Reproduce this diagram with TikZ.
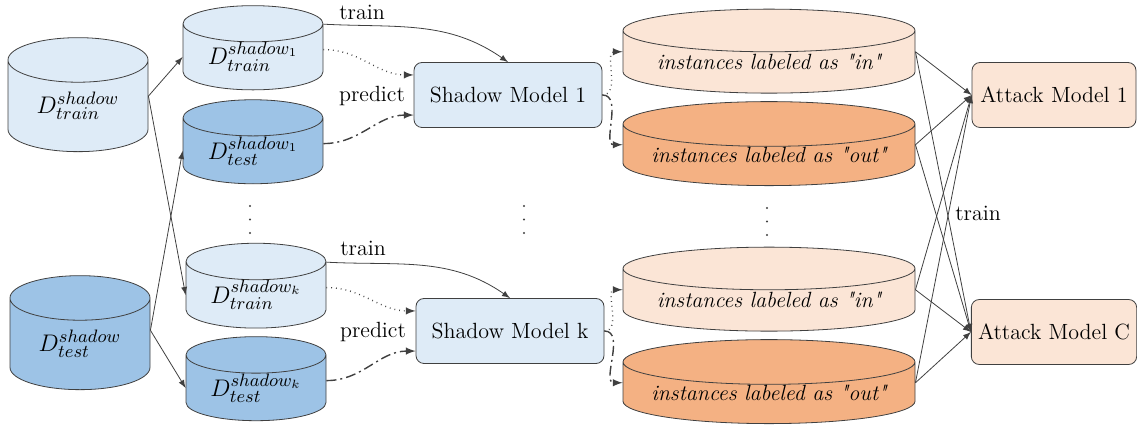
\documentclass[tikz,border=0pt]{standalone}
\usepackage{fontspec}
\usepackage{xcolor}
\usepackage{tikz}
\usetikzlibrary{
	shapes.geometric,   %圆柱形状
	arrows.meta,        %提供各种箭头
	positioning         %定位
}
\definecolor{paleblue}{HTML}{DEEBF7}
\definecolor{midblue}{HTML}{9DC3E6}
\definecolor{peach}{HTML}{FBE5D6}
\definecolor{orange}{HTML}{F4B183}
\definecolor{linegray}{HTML}{404040}
\tikzset{
	every picture/.style={
		>=latex,
		font=\fontsize{11}{13}\selectfont
}}
\tikzset{
	db/.style={cylinder,shape border rotate=90,draw=linegray,
		minimum width=70pt,minimum height=42pt,aspect=0.4,inner sep=0pt,
		font=\fontsize{13}{15}\selectfont},
	bigdb/.style={db,minimum height=57pt,aspect=0.54},
	labdb/.style={db,minimum width=146pt,aspect=0.19,font=\fontsize{11}{13}\selectfont\itshape},
	model/.style={rectangle,rounded corners=4pt,draw=linegray,
		minimum width=94pt,minimum height=32.5pt},
	conn/.style={->,draw=linegray,thin},
	dotconn/.style={conn,dotted,line width=0.7pt},
	dashdotconn/.style={conn,line width=0.7pt,dash pattern=on 5pt off 2pt on 1pt off 2pt}
}

\begin{document}
\begin{tikzpicture}[x=0.5pt,y=0.5pt]
\useasboundingbox (0,0) rectangle (1137,428);
%左边的两个大数据集
\node[bigdb,fill=paleblue] (bigtrain) at (78,322) {$D^{shadow}_{train}$};
\node[bigdb,fill=midblue] (bigtest) at (80,84) {$D^{shadow}_{test}$};
%每个影子模型的训练集和测试集
\node[db,fill=paleblue] (dtrain1) at (253,371) {$D^{shadow_1}_{train}$};
\node[db,fill=midblue] (dtest1) at (253,277) {$D^{shadow_1}_{test}$};
\node[db,fill=paleblue] (dtraink) at (256,133) {$D^{shadow_k}_{train}$};
\node[db,fill=midblue] (dtestk) at (256,40) {$D^{shadow_k}_{test}$};
%影子模型
\node[model,fill=paleblue] (shadow1) at (508,333) {Shadow Model 1};
\node[model,fill=paleblue] (shadowk) at (510,97) {Shadow Model k};
%标注为in和out的样本
\node[labdb,fill=peach] (in1) at (769,366) {instances labeled as \textquotedbl in\textquotedbl};
\node[labdb,fill=orange] (out1) at (769,273) {instances labeled as \textquotedbl out\textquotedbl};
\node[labdb,fill=peach] (ink) at (769,128) {instances labeled as \textquotedbl in\textquotedbl};
\node[labdb,fill=orange] (outk) at (769,35) {instances labeled as \textquotedbl out\textquotedbl};
%攻击模型
\node[model,fill=peach,minimum width=82pt] (attack1) at (1054,333) {Attack Model 1};
\node[model,fill=peach,minimum width=82pt] (attackc) at (1054,96) {Attack Model C};
%省略号
\foreach \x/\y in {250/0,524/0,767/-2}
	\foreach \k in {0,1,2}
		\fill[linegray] (\x,222+\y-13.5*\k) circle(0.6pt);
%划分数据集
\draw[conn] (bigtrain.8) -- (dtrain1.west);
\draw[conn] (bigtrain.8) -- (dtraink.west);
\draw[conn] (bigtest.11) -- (dtest1.west);
\draw[conn] (bigtest.11) -- (dtestk.west);
%训练和预测影子模型
\draw[conn] (dtrain1.25) to[out=-3,in=145] (shadow1.north);
\draw[dotconn] (dtrain1.6) to[out=0,in=180] (shadow1.168);
\draw[dashdotconn] (dtest1.6) to[out=0,in=180] (shadow1.192);
\draw[conn] (dtraink.25) to[out=-3,in=145] (shadowk.north);
\draw[dotconn] (dtraink.6) to[out=0,in=180] (shadowk.168);
\draw[dashdotconn] (dtestk.6) to[out=0,in=180] (shadowk.192);
\node (train1) at (362,416) {train};
\node (predict1) at (372,332) {predict};
\node (traink) at (363,180) {train};
\node (predictk) at (373,96) {predict};
%影子模型输出
\draw[dotconn] (shadow1.east) to[out=0,in=180] (in1.176);
\draw[dashdotconn] (shadow1.east) to[out=0,in=180] (out1.176);
\draw[dotconn] (shadowk.east) to[out=0,in=180] (ink.176);
\draw[dashdotconn] (shadowk.east) to[out=0,in=180] (outk.176);
%训练攻击模型
\foreach \src in {in1,out1,ink,outk}{
	\draw[conn] (\src.4) -- (attack1.west);
	\draw[conn] (\src.4) -- (attackc.west);
}
\node (trainatt) at (978,215) {train};
\end{tikzpicture}
\end{document}
